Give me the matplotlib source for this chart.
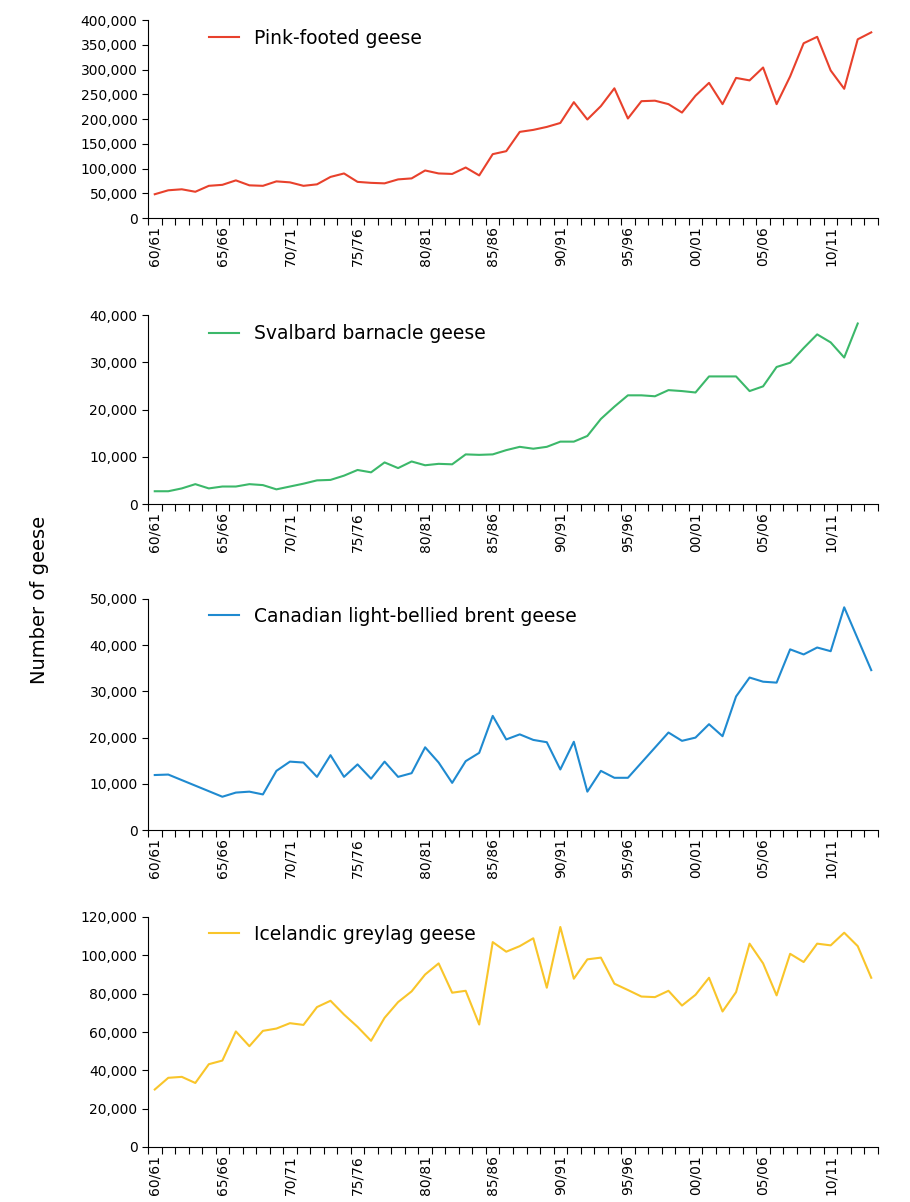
import numpy as np
import matplotlib
matplotlib.use("Agg")
import matplotlib.pyplot as plt
from matplotlib.ticker import FuncFormatter

seasons = [f"{y % 100:02d}/{(y + 1) % 100:02d}" for y in range(1960, 2014)]

pink = [48, 56, 58, 53, 65, 67, 76, 66, 65, 74, 72, 65, 68, 83, 90, 73, 71, 70, 78, 80,
        96, 90, 89, 102, 86, 129, 135, 174, 178, 184, 192, 234, 199, 226, 262, 201, 236,
        237, 230, 213, 247, 273, 230, 283, 278, 304, 230, 286, 353, 366, 298, 261, 361, 375]
barnacle = [2.7, 2.7, 3.3, 4.2, 3.3, 3.7, 3.7, 4.2, 4.0, 3.1, 3.7, 4.3, 5.0, 5.1, 6.0, 7.2,
            6.7, 8.8, 7.6, 9.0, 8.2, 8.5, 8.4, 10.5, 10.4, 10.5, 11.4, 12.1, 11.7, 12.1, 13.2,
            13.2, 14.4, 18.0, 20.6, 23.0, 23.0, 22.8, 24.1, 23.9, 23.6, 27.0, 27.0, 27.0, 23.9,
            24.9, 29.0, 29.9, 33.0, 35.9, 34.2, 31.0, 38.2]
brent_idx = [0, 1, 5, 6, 7, 8, 9, 10, 11, 12, 13, 14, 15, 16, 17, 18, 19, 20, 21, 22, 23, 24,
             25, 26, 27, 28, 29, 30, 31, 32, 33, 34, 35, 38, 39, 40, 41, 42, 43, 44, 45, 46,
             47, 48, 49, 50, 51, 53]
brent = [11.9, 12.0, 7.2, 8.1, 8.3, 7.7, 12.8, 14.8, 14.6, 11.5, 16.2, 11.5, 14.2, 11.1,
         14.8, 11.5, 12.3, 17.9, 14.6, 10.2, 14.9, 16.7, 24.7, 19.6, 20.7, 19.5, 19.0, 13.1,
         19.1, 8.3, 12.8, 11.3, 11.3, 21.1, 19.3, 20.0, 22.9, 20.3, 28.9, 33.0, 32.1, 31.9,
         39.1, 38.0, 39.5, 38.7, 48.2, 34.6]
greylag = [30.0, 36.1, 36.6, 33.4, 43.2, 45.1, 60.3, 52.6, 60.6, 61.8, 64.6, 63.7, 73.0, 76.3,
           69.1, 62.7, 55.4, 67.4, 75.6, 81.2, 90.0, 95.8, 80.5, 81.5, 63.9, 106.9, 101.9,
           104.8, 108.9, 83.1, 114.8, 87.8, 97.9, 98.8, 85.2, 81.9, 78.5, 78.2, 81.5, 73.8,
           79.4, 88.3, 70.7, 80.8, 106.1, 95.8, 79.1, 100.8, 96.5, 106.1, 105.2, 111.8, 104.8,
           88.3]

panels = [
    ("Pink-footed geese", np.arange(len(pink)), np.array(pink) * 1000, "#e8412c", 400000, 50000, (20, 218)),
    ("Svalbard barnacle geese", np.arange(len(barnacle)), np.array(barnacle) * 1000, "#3cb86a", 40000, 10000, (315, 504)),
    ("Canadian light-bellied brent geese", np.array(brent_idx), np.array(brent) * 1000, "#1f8ad0", 50000, 10000, (599, 830)),
    ("Icelandic greylag geese", np.arange(len(greylag)), np.array(greylag) * 1000, "#f9c52a", 120000, 20000, (917, 1147)),
]

W, H = 910, 1202
fig = plt.figure(figsize=(W / 100, H / 100), dpi=100, facecolor="white")
fmt = FuncFormatter(lambda v, p: f"{int(v):,}")

for name, x, y, col, ymax, step, (top, bot) in panels:
    ax = fig.add_axes([148 / W, 1 - bot / H, (878 - 148) / W, (bot - top) / H])
    ax.plot(x, y, color=col, lw=1.5, label=name, clip_on=True)
    ax.set_xlim(-0.5, 53.5)
    ax.set_ylim(0, ymax)
    ax.set_yticks(np.arange(0, ymax + 1, step))
    ax.yaxis.set_major_formatter(fmt)
    ax.set_xticks(np.arange(0, 54, 5))
    ax.set_xticklabels(seasons[::5], rotation=90)
    ax.set_xticks(np.arange(-0.5, 54, 1), minor=True)
    ax.tick_params(axis="x", which="major", length=0, labelsize=10, pad=6)
    ax.tick_params(axis="x", which="minor", length=5, width=0.8)
    ax.tick_params(axis="y", length=4, width=0.8, labelsize=10)
    for s in ("top", "right"):
        ax.spines[s].set_visible(False)
    ax.legend(loc="upper left", bbox_to_anchor=(0.06, 1.04), frameon=False,
              fontsize=13.5, handlelength=1.6)

fig.text(40 / W, 1 - 600 / H, "Number of geese", rotation=90, ha="center", va="center", fontsize=14)
fig.savefig("out.png", dpi=100, facecolor="white")
